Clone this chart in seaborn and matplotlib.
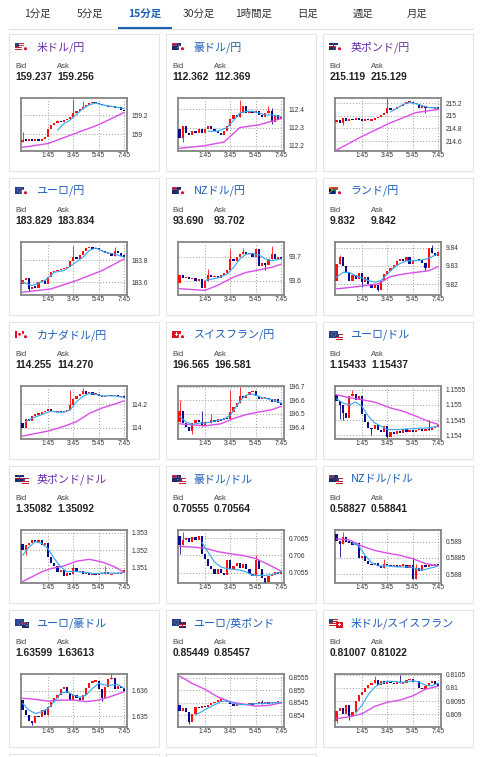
import numpy as np
import pandas as pd
import matplotlib
matplotlib.use('Agg')
import matplotlib.pyplot as plt
from matplotlib.patches import Rectangle, Circle, Polygon
import seaborn as sns

sns.set_theme(style='white')
plt.rcParams['font.family'] = ['Noto Sans CJK JP', 'DejaVu Sans']

# ---------------- data ----------------
TABS = ['1分足', '5分足', '15分足', '30分足', '1時間足', '日足', '週足', '月足']
ACTIVE_TAB = '15分足'
TIME_LABELS = ['1:45', '3:45', '5:45', '7:45']
TIME_IDX = [8, 16, 24, 32]          # candle index of each time label (15-min bars)

# 1 米ドル/円
usdjpy_name, usdjpy_bid, usdjpy_ask = '米ドル/円', '159.237', '159.256'
usdjpy_open0 = 158.92
usdjpy_close = [158.94, 158.93, 158.95, 158.93, 158.94, 158.93, 158.95, 158.97, 159.05, 159.10, 159.12,
                159.14, 159.13, 159.15, 159.16, 159.18, 159.22, 159.25, 159.27, 159.29, 159.31, 159.33,
                159.34, 159.33, 159.32, 159.31, 159.30, 159.29, 159.30, 159.28, 159.29, 159.26, 159.24]
usdjpy_spikes = {0: (159.02, None), 16: (159.37, None), 19: (159.35, None)}
usdjpy_ma_long = [(0, 158.86), (8, 158.90), (16, 159.00), (24, 159.10), (32, 159.23)]
usdjpy_ma_short = [(11, 159.04), (13, 159.11), (15, 159.15), (17, 159.21), (19, 159.27), (21, 159.31),
                   (23, 159.33), (25, 159.31), (27, 159.30), (29, 159.29), (32, 159.27)]
usdjpy_yticks = [159.2, 159.0]
usdjpy_ylabels = ['159.2', '159']

# 2 豪ドル/円
audjpy_name, audjpy_bid, audjpy_ask = '豪ドル/円', '112.362', '112.369'
audjpy_open0 = 112.29
audjpy_close = [112.24, 112.31, 112.27, 112.26, 112.28, 112.27, 112.29, 112.27, 112.29, 112.31, 112.29,
                112.28, 112.27, 112.26, 112.28, 112.31, 112.35, 112.37, 112.36, 112.38, 112.42, 112.38,
                112.39, 112.38, 112.39, 112.37, 112.36, 112.38, 112.39, 112.33, 112.37, 112.35, 112.36]
audjpy_spikes = {1: (None, 112.22), 19: (112.455, None), 28: (112.42, None), 29: (112.41, 112.32)}
audjpy_ma_long = [(0, 112.185), (8, 112.20), (14, 112.22), (19, 112.30), (25, 112.315), (32, 112.35)]
audjpy_ma_short = [(9, 112.28), (12, 112.28), (15, 112.30), (17, 112.34), (19, 112.38), (21, 112.39),
                   (23, 112.39), (25, 112.38), (27, 112.37), (29, 112.37), (32, 112.36)]
audjpy_yticks = [112.4, 112.3, 112.2]
audjpy_ylabels = ['112.4', '112.3', '112.2']

# 3 英ポンド/円
gbpjpy_name, gbpjpy_bid, gbpjpy_ask = '英ポンド/円', '215.119', '215.129'
gbpjpy_open0 = 214.90
gbpjpy_close = [214.93, 214.89, 214.96, 214.92, 214.95, 214.93, 214.96, 214.94, 214.92, 214.95, 214.93,
                214.94, 214.96, 214.98, 215.01, 215.05, 215.12, 215.09, 215.11, 215.14, 215.16, 215.19,
                215.21, 215.22, 215.20, 215.19, 215.13, 215.15, 215.12, 215.14, 215.12, 215.13, 215.11]
gbpjpy_spikes = {2: (None, 214.86), 16: (215.28, None), 28: (None, 215.05)}
gbpjpy_ma_long = [(0, 214.46), (8, 214.675), (17, 214.89), (21, 214.97), (25, 215.05), (32, 215.10)]
gbpjpy_ma_short = [(17, 215.06), (19, 215.12), (21, 215.18), (23, 215.21), (25, 215.19), (27, 215.16),
                   (29, 215.13), (32, 215.12)]
gbpjpy_yticks = [215.2, 215.0, 214.8, 214.6]
gbpjpy_ylabels = ['215.2', '215', '214.8', '214.6']

# 4 ユーロ/円
eurjpy_name, eurjpy_bid, eurjpy_ask = 'ユーロ/円', '183.829', '183.834'
eurjpy_open0 = 183.58
eurjpy_close = [183.62, 183.64, 183.54, 183.56, 183.55, 183.60, 183.62, 183.58, 183.65, 183.69, 183.70,
                183.71, 183.72, 183.73, 183.74, 183.79, 183.83, 183.81, 183.85, 183.88, 183.91, 183.92,
                183.90, 183.91, 183.89, 183.88, 183.86, 183.86, 183.84, 183.88, 183.86, 183.84, 183.83]
eurjpy_spikes = {2: (None, 183.525), 16: (183.93, None), 29: (183.92, None)}
eurjpy_ma_long = [(0, 183.51), (9, 183.54), (17, 183.615), (25, 183.705), (32, 183.81)]
eurjpy_ma_short = [(0, 183.60), (3, 183.57), (7, 183.615), (10, 183.69), (13, 183.705), (16, 183.765),
                   (19, 183.825), (21, 183.885), (23, 183.91), (26, 183.87), (29, 183.855), (32, 183.825)]
eurjpy_yticks = [183.8, 183.6]
eurjpy_ylabels = ['183.8', '183.6']

# 5 NZドル/円
nzdjpy_name, nzdjpy_bid, nzdjpy_ask = 'NZドル/円', '93.690', '93.702'
nzdjpy_open0 = 93.59
nzdjpy_close = [93.625, 93.61, 93.615, 93.605, 93.61, 93.60, 93.605, 93.57, 93.60, 93.625, 93.615,
                93.62, 93.61, 93.625, 93.63, 93.645, 93.69, 93.68, 93.70, 93.71, 93.72, 93.71,
                93.715, 93.70, 93.73, 93.66, 93.675, 93.665, 93.69, 93.71, 93.69, 93.70, 93.69]
nzdjpy_spikes = {9: (93.65, None), 16: (93.73, None), 20: (93.735, None), 27: (None, 93.645), 29: (93.745, None)}
nzdjpy_ma_long = [(0, 93.566), (8, 93.559), (12, 93.58), (17, 93.614), (21, 93.634), (25, 93.644),
                  (29, 93.655), (32, 93.668)]
nzdjpy_ma_short = [(8, 93.60), (12, 93.611), (15, 93.627), (17, 93.655), (19, 93.69), (21, 93.71),
                   (23, 93.712), (25, 93.707), (27, 93.69), (29, 93.682), (32, 93.69)]
nzdjpy_yticks = [93.7, 93.6]
nzdjpy_ylabels = ['93.7', '93.6']

# 6 ランド/円
zarjpy_name, zarjpy_bid, zarjpy_ask = 'ランド/円', '9.832', '9.842'
zarjpy_open0 = 9.822
zarjpy_close = [9.831, 9.835, 9.830, 9.826, 9.822, 9.825, 9.823, 9.826, 9.821, 9.824, 9.820,
                9.818, 9.8195, 9.817, 9.822, 9.8255, 9.827, 9.829, 9.8305, 9.8325, 9.834, 9.8325,
                9.835, 9.831, 9.8325, 9.8335, 9.833, 9.8315, 9.829, 9.840, 9.837, 9.8355, 9.8375]
zarjpy_spikes = {1: (9.836, None), 8: (None, 9.8185), 13: (None, 9.8165), 28: (None, 9.8275), 30: (9.8415, None)}
zarjpy_ma_long = [(0, 9.8175), (5, 9.8184), (9, 9.8193), (13, 9.8202), (17, 9.8242), (21, 9.8256),
                  (25, 9.8265), (29, 9.8274), (32, 9.8296)]
zarjpy_ma_short = [(0, 9.8238), (2, 9.8265), (4, 9.8265), (6, 9.8247), (8, 9.8234), (10, 9.822),
                   (12, 9.8211), (14, 9.822), (16, 9.8256), (18, 9.829), (20, 9.8314), (22, 9.8328),
                   (24, 9.8328), (26, 9.833), (28, 9.8337), (30, 9.835), (32, 9.8368)]
zarjpy_yticks = [9.84, 9.83, 9.82]
zarjpy_ylabels = ['9.84', '9.83', '9.82']

# 7 カナダドル/円
cadjpy_name, cadjpy_bid, cadjpy_ask = 'カナダドル/円', '114.255', '114.270'
cadjpy_open0 = 114.04
cadjpy_close = [114.00, 114.07, 114.06, 114.10, 114.11, 114.12, 114.13, 114.14, 114.16, 114.14, 114.13,
                114.14, 114.13, 114.14, 114.15, 114.19, 114.24, 114.27, 114.29, 114.31, 114.29, 114.30,
                114.28, 114.29, 114.27, 114.26, 114.27, 114.28, 114.27, 114.28, 114.26, 114.27, 114.255]
cadjpy_spikes = {15: (114.32, None), 19: (114.34, None)}
cadjpy_ma_long = [(0, 113.927), (8, 113.97), (13, 114.01), (17, 114.05), (21, 114.12), (25, 114.166),
                  (29, 114.20), (32, 114.228)]
cadjpy_ma_short = [(1, 114.05), (3, 114.08), (5, 114.10), (7, 114.12), (9, 114.14), (11, 114.13),
                   (13, 114.13), (15, 114.15), (17, 114.22), (19, 114.265), (21, 114.29), (23, 114.285),
                   (25, 114.27), (27, 114.27), (29, 114.27), (32, 114.256)]
cadjpy_yticks = [114.2, 114.0]
cadjpy_ylabels = ['114.2', '114']

# 8 スイスフラン/円
chfjpy_name, chfjpy_bid, chfjpy_ask = 'スイスフラン/円', '196.565', '196.581'
chfjpy_open0 = 196.44
chfjpy_close = [196.52, 196.43, 196.40, 196.37, 196.43, 196.45, 196.44, 196.41, 196.44, 196.43, 196.45,
                196.44, 196.46, 196.45, 196.47, 196.46, 196.51, 196.55, 196.58, 196.63, 196.62, 196.64,
                196.66, 196.67, 196.63, 196.61, 196.62, 196.62, 196.61, 196.59, 196.61, 196.58, 196.565]
chfjpy_spikes = {0: (196.60, None), 4: (None, 196.35), 7: (196.52, None), 10: (196.50, None),
                 16: (196.68, None), 19: (196.70, None)}
chfjpy_ma_long = [(0, 196.425), (8, 196.41), (13, 196.425), (17, 196.465), (21, 196.494), (25, 196.513),
                  (29, 196.53), (32, 196.555)]
chfjpy_ma_short = [(0, 196.48), (2, 196.44), (4, 196.42), (6, 196.43), (8, 196.43), (10, 196.44),
                   (12, 196.45), (14, 196.46), (16, 196.49), (18, 196.56), (20, 196.62), (22, 196.65),
                   (24, 196.64), (26, 196.62), (28, 196.61), (30, 196.60), (32, 196.58)]
chfjpy_yticks = [196.7, 196.6, 196.5, 196.4]
chfjpy_ylabels = ['196.7', '196.6', '196.5', '196.4']

# 9 ユーロ/ドル
eurusd_name, eurusd_bid, eurusd_ask = 'ユーロ/ドル', '1.15433', '1.15437'
eurusd_open0 = 1.15533
eurusd_close = [1.15512, 1.15500, 1.15475, 1.15458, 1.15530, 1.15535, 1.15515, 1.15530, 1.15470, 1.15445,
                1.15425, 1.15420, 1.15435, 1.15418, 1.15410, 1.15430, 1.15395, 1.15410, 1.15405, 1.15415,
                1.15408, 1.15420, 1.15412, 1.15418, 1.15412, 1.15418, 1.15420, 1.15415, 1.15422, 1.15418,
                1.15425, 1.15428, 1.15433]
eurusd_spikes = {1: (None, 1.15455), 2: (None, 1.15450), 5: (1.15550, None), 11: (None, 1.15402),
                 16: (None, 1.15390), 29: (1.15450, None)}
eurusd_ma_long = [(0, 1.15533), (4, 1.15524), (8, 1.15517), (12, 1.15509), (17, 1.15490), (21, 1.15479),
                  (25, 1.15463), (29, 1.15446), (32, 1.15436)]
eurusd_ma_short = [(0, 1.15520), (2, 1.15506), (4, 1.15500), (6, 1.15509), (8, 1.15495), (10, 1.15463),
                   (12, 1.15441), (14, 1.15430), (16, 1.15419), (18, 1.15419), (20, 1.15419), (22, 1.15421),
                   (24, 1.15422), (26, 1.15423), (28, 1.15424), (30, 1.15426), (32, 1.15430)]
eurusd_yticks = [1.1555, 1.155, 1.1545, 1.154]
eurusd_ylabels = ['1.1555', '1.155', '1.1545', '1.154']

# 10 英ポンド/ドル
gbpusd_name, gbpusd_bid, gbpusd_ask = '英ポンド/ドル', '1.35082', '1.35092'
gbpusd_open0 = 1.35238
gbpusd_close = [1.35205, 1.35230, 1.35240, 1.35262, 1.35250, 1.35258, 1.35232, 1.35245, 1.35165, 1.35130,
                1.35110, 1.35075, 1.35090, 1.35055, 1.35070, 1.35062, 1.35100, 1.35075, 1.35082, 1.35065,
                1.35072, 1.35060, 1.35068, 1.35062, 1.35070, 1.35063, 1.35075, 1.35062, 1.35064, 1.35071,
                1.35066, 1.35072, 1.35085]
gbpusd_spikes = {1: (None, 1.35175), 16: (1.35120, None), 26: (1.35110, None)}
gbpusd_ma_long = [(0, 1.35021), (3, 1.35049), (6, 1.35077), (9, 1.35096), (13, 1.35111), (17, 1.35138),
                  (21, 1.35149), (25, 1.35134), (29, 1.35106), (32, 1.35074)]
gbpusd_ma_short = [(0, 1.35172), (2, 1.35219), (4, 1.35250), (6, 1.35241), (8, 1.35210), (10, 1.35153),
                   (12, 1.35106), (14, 1.35077), (16, 1.35081), (18, 1.35077), (20, 1.35074), (22, 1.35068),
                   (24, 1.35068), (26, 1.35072), (28, 1.35070), (30, 1.35070), (32, 1.35074)]
gbpusd_yticks = [1.353, 1.352, 1.351]
gbpusd_ylabels = ['1.353', '1.352', '1.351']

# 11 豪ドル/ドル
audusd_name, audusd_bid, audusd_ask = '豪ドル/ドル', '0.70555', '0.70564'
audusd_open0 = 0.70657
audusd_close = [0.70630, 0.70645, 0.70650, 0.70640, 0.70652, 0.70645, 0.70655, 0.70605, 0.70590, 0.70570,
                0.70562, 0.70548, 0.70560, 0.70550, 0.70545, 0.70586, 0.70560, 0.70570, 0.70578, 0.70565,
                0.70575, 0.70560, 0.70548, 0.70540, 0.70588, 0.70562, 0.70536, 0.70525, 0.70540, 0.70545,
                0.70552, 0.70548, 0.70556]
audusd_spikes = {0: (None, 0.70605), 1: (0.70668, None), 24: (0.70600, None), 27: (None, 0.70520)}
audusd_ma_long = [(0, 0.70626), (4, 0.70624), (8, 0.70621), (12, 0.70611), (16, 0.70605), (20, 0.70600),
                  (24, 0.70591), (28, 0.70574), (32, 0.70555)]
audusd_ma_short = [(7, 0.70638), (9, 0.70609), (11, 0.70581), (13, 0.70567), (15, 0.70562), (17, 0.70560),
                   (19, 0.70558), (21, 0.70553), (23, 0.70543), (25, 0.70543), (27, 0.70543), (29, 0.70545),
                   (31, 0.70550), (32, 0.70553)]
audusd_yticks = [0.7065, 0.706, 0.7055]
audusd_ylabels = ['0.7065', '0.706', '0.7055']

# 12 NZドル/ドル
nzdusd_name, nzdusd_bid, nzdusd_ask = 'NZドル/ドル', '0.58827', '0.58841'
nzdusd_open0 = 0.58923
nzdusd_close = [0.58903, 0.58893, 0.58915, 0.58900, 0.58898, 0.58890, 0.58895, 0.58850, 0.58855, 0.58840,
                0.58832, 0.58828, 0.58835, 0.58825, 0.58820, 0.58832, 0.58830, 0.58825, 0.58830, 0.58822,
                0.58828, 0.58830, 0.58820, 0.58828, 0.58785, 0.58820, 0.58810, 0.58828, 0.58823, 0.58830,
                0.58825, 0.58832, 0.58827]
nzdusd_spikes = {1: (None, 0.58853), 2: (0.58928, None), 15: (0.58848, None), 24: (0.58850, None),
                 25: (0.58833, None)}
nzdusd_ma_long = [(0, 0.58908), (4, 0.58905), (8, 0.58886), (12, 0.58873), (16, 0.58865), (20, 0.58858),
                  (24, 0.58848), (28, 0.58833), (32, 0.58826)]
nzdusd_ma_short = [(5, 0.58896), (7, 0.58886), (9, 0.58858), (11, 0.58836), (13, 0.58826), (15, 0.58826),
                   (17, 0.58825), (19, 0.58823), (21, 0.58823), (23, 0.58823), (25, 0.58818), (27, 0.58813),
                   (29, 0.58818), (31, 0.58823), (32, 0.58828)]
nzdusd_yticks = [0.589, 0.5885, 0.588]
nzdusd_ylabels = ['0.589', '0.5885', '0.588']

# 13 ユーロ/豪ドル
euraud_name, euraud_bid, euraud_ask = 'ユーロ/豪ドル', '1.63599', '1.63613'
euraud_open0 = 1.63563
euraud_close = [1.63525, 1.63505, 1.63480, 1.63472, 1.63500, 1.63495, 1.63525, 1.63505, 1.63535, 1.63555,
                1.63570, 1.63585, 1.63605, 1.63615, 1.63590, 1.63565, 1.63585, 1.63570, 1.63562, 1.63585,
                1.63612, 1.63630, 1.63638, 1.63640, 1.63605, 1.63570, 1.63615, 1.63645, 1.63650, 1.63605,
                1.63620, 1.63612, 1.63600]
euraud_spikes = {3: (None, 1.63465), 25: (None, 1.63560), 28: (1.63665, None)}
euraud_ma_long = [(0, 1.63570), (4, 1.63566), (8, 1.63559), (12, 1.63563), (16, 1.63563), (20, 1.63557),
                  (24, 1.63563), (27, 1.63574), (30, 1.63587), (32, 1.63596)]
euraud_ma_short = [(0, 1.63550), (2, 1.63524), (4, 1.63510), (6, 1.63517), (8, 1.63530), (10, 1.63557),
                   (12, 1.63590), (14, 1.63596), (16, 1.63583), (18, 1.63574), (20, 1.63583), (22, 1.63609),
                   (24, 1.63629), (26, 1.63622), (28, 1.63622), (30, 1.63625), (32, 1.63609)]
euraud_yticks = [1.636, 1.635]
euraud_ylabels = ['1.636', '1.635']

# 14 ユーロ/英ポンド
eurgbp_name, eurgbp_bid, eurgbp_ask = 'ユーロ/英ポンド', '0.85449', '0.85457'
eurgbp_open0 = 0.85440
eurgbp_close = [0.85418, 0.85430, 0.85412, 0.85372, 0.85405, 0.85435, 0.85430, 0.85438, 0.85432, 0.85440,
                0.85448, 0.85455, 0.85458, 0.85465, 0.85460, 0.85452, 0.85445, 0.85438, 0.85445, 0.85440,
                0.85446, 0.85442, 0.85448, 0.85444, 0.85449, 0.85450, 0.85447, 0.85452, 0.85448, 0.85453,
                0.85450, 0.85455, 0.85449]
eurgbp_spikes = {3: (None, 0.85365), 26: (0.85463, None)}
eurgbp_ma_long = [(0, 0.85557), (4, 0.85527), (8, 0.85504), (12, 0.85474), (16, 0.85454), (20, 0.85445),
                  (24, 0.85437), (28, 0.85440), (32, 0.85450)]
eurgbp_ma_short = [(5, 0.85402), (7, 0.85415), (9, 0.85430), (11, 0.85442), (13, 0.85455), (15, 0.85458),
                   (17, 0.85448), (19, 0.85443), (21, 0.85443), (23, 0.85446), (25, 0.85447), (27, 0.85448),
                   (29, 0.85450), (31, 0.85451), (32, 0.85452)]
eurgbp_yticks = [0.8555, 0.855, 0.8545, 0.854]
eurgbp_ylabels = ['0.8555', '0.855', '0.8545', '0.854']

# 15 米ドル/スイスフラン
usdchf_name, usdchf_bid, usdchf_ask = '米ドル/スイスフラン', '0.81007', '0.81022'
usdchf_open0 = 0.80875
usdchf_close = [0.80912, 0.80925, 0.80900, 0.80935, 0.80895, 0.80910, 0.80950, 0.80975, 0.80985, 0.81000,
                0.81012, 0.81020, 0.81030, 0.81012, 0.81025, 0.81015, 0.81028, 0.81020, 0.81015, 0.81022,
                0.81018, 0.81020, 0.81030, 0.81035, 0.81022, 0.81028, 0.81000, 0.80995, 0.81008, 0.81020,
                0.81028, 0.81015, 0.81007]
usdchf_spikes = {0: (None, 0.80868), 4: (None, 0.80880), 12: (0.81045, None), 20: (0.81048, None)}
usdchf_ma_long = [(0, 0.80884), (4, 0.80890), (8, 0.80902), (12, 0.80930), (16, 0.80946), (20, 0.80954),
                  (24, 0.80970), (28, 0.80995), (32, 0.81007)]
usdchf_ma_short = [(6, 0.80904), (8, 0.80935), (10, 0.80975), (12, 0.81003), (14, 0.81018), (16, 0.81025),
                   (18, 0.81025), (20, 0.81022), (22, 0.81023), (24, 0.81028), (26, 0.81022), (28, 0.81010),
                   (30, 0.81008), (32, 0.81018)]
usdchf_yticks = [0.8105, 0.81, 0.8095, 0.809]
usdchf_ylabels = ['0.8105', '0.81', '0.8095', '0.809']

# ---------------- layout (pixels) ----------------
W, H = 480, 757
ROW_TOP = [34, 178, 322, 466, 610]
COL_LEFT = [9, 166, 323]
CARD_W, CARD_H = 150, 137
YLIMS = [(158.824, 159.383), (112.172, 112.4635), (214.45, 215.28),
         (183.4875, 183.963), (93.541, 93.7605), (9.8143, 9.8431),
         (113.905, 114.354), (196.314, 196.707), (1.15389, 1.15562),
         (1.35015, 1.35317), (0.70522, 0.70673), (0.58775, 0.58935),
         (1.63458, 1.63666), (0.85355, 0.85565), (0.80853, 0.81053)]
FLAGS = [('USD', 'JPY'), ('AUD', 'JPY'), ('GBP', 'JPY'), ('EUR', 'JPY'), ('NZD', 'JPY'), ('ZAR', 'JPY'),
         ('CAD', 'JPY'), ('CHF', 'JPY'), ('EUR', 'USD'), ('GBP', 'USD'), ('AUD', 'USD'), ('NZD', 'USD'),
         ('EUR', 'AUD'), ('EUR', 'GBP'), ('USD', 'CHF')]
VISITED = {0, 2, 9}

PAIRS = []
for p in ['usdjpy', 'audjpy', 'gbpjpy', 'eurjpy', 'nzdjpy', 'zarjpy', 'cadjpy', 'chfjpy',
          'eurusd', 'gbpusd', 'audusd', 'nzdusd', 'euraud', 'eurgbp', 'usdchf']:
    g = globals()
    PAIRS.append(dict(name=g[p + '_name'], bid=g[p + '_bid'], ask=g[p + '_ask'], open0=g[p + '_open0'],
                      close=g[p + '_close'], spikes=g[p + '_spikes'], ma_long=g[p + '_ma_long'],
                      ma_short=g[p + '_ma_short'], yticks=g[p + '_yticks'], ylabels=g[p + '_ylabels']))

RED = '#ff1010'
NAVY = '#0a0a90'
MA_SHORT_C = '#3aa8f0'
MA_LONG_C = '#d94ee8'
BLUE_LINK = '#1a5cb8'
PURPLE_LINK = '#6a2aa8'
TAB_BLUE = '#1a5fb0'
NUMFONT = ['Liberation Sans', 'DejaVu Sans']

fig = plt.figure(figsize=(4.8, 7.57), dpi=100)
fig.patch.set_facecolor('white')
bg = fig.add_axes([0, 0, 1, 1])
bg.set_xlim(0, W)
bg.set_ylim(H, 0)
bg.axis('off')


def R(x, y, w, h, col, z, ec='none', lw=0):
    bg.add_patch(Rectangle((x, y), w, h, facecolor=col, edgecolor=ec, linewidth=lw, zorder=z))


def flag(code, x, y, w, h, z):
    if code == 'USD':
        R(x, y, w, h, '#ffffff', z)
        for k in range(4):
            R(x, y + k * h / 3.5, w, h / 7.0, '#c8202f', z + 0.1)
        R(x, y, w * 0.45, h * 0.55, '#3c3b6e', z + 0.2)
    elif code == 'JPY':
        R(x, y, w, h, '#ffffff', z, ec='#e6e6e6', lw=0.3)
        bg.add_patch(Circle((x + w / 2, y + h / 2), h * 0.28, facecolor='#d0102a', edgecolor='none', zorder=z + 0.1))
    elif code == 'EUR':
        R(x, y, w, h, '#1f3f99', z)
        for a in np.linspace(0, 2 * np.pi, 8, endpoint=False):
            bg.add_patch(Circle((x + w / 2 + np.cos(a) * h * 0.3, y + h / 2 + np.sin(a) * h * 0.3), 0.35,
                                facecolor='#ffd700', edgecolor='none', zorder=z + 0.1))
    elif code == 'GBP':
        R(x, y, w, h, '#1b2b6b', z)
        R(x, y + h * 0.36, w, h * 0.28, '#ffffff', z + 0.1)
        R(x + w * 0.4, y, w * 0.2, h, '#ffffff', z + 0.1)
        R(x, y + h * 0.43, w, h * 0.14, '#c8102e', z + 0.2)
        R(x + w * 0.45, y, w * 0.1, h, '#c8102e', z + 0.2)
    elif code in ('AUD', 'NZD'):
        R(x, y, w, h, '#1b2b6b', z)
        R(x, y, w * 0.5, h * 0.5, '#5a6aa0', z + 0.1)
        R(x, y + h * 0.2, w * 0.5, h * 0.12, '#c8102e', z + 0.2)
        R(x + w * 0.2, y, w * 0.12, h * 0.5, '#c8102e', z + 0.2)
        dot = '#ffffff' if code == 'AUD' else '#d0102a'
        for (dx, dy) in [(0.75, 0.3), (0.65, 0.7), (0.85, 0.6)]:
            bg.add_patch(Circle((x + w * dx, y + h * dy), 0.45, facecolor=dot, edgecolor='none', zorder=z + 0.3))
    elif code == 'CAD':
        R(x, y, w, h, '#ffffff', z)
        R(x, y, w * 0.27, h, '#e01020', z + 0.1)
        R(x + w * 0.73, y, w * 0.27, h, '#e01020', z + 0.1)
        bg.add_patch(Circle((x + w / 2, y + h / 2), h * 0.2, facecolor='#e01020', edgecolor='none', zorder=z + 0.2))
    elif code == 'CHF':
        R(x, y, w, h, '#e01020', z)
        R(x + w * 0.42, y + h * 0.2, w * 0.16, h * 0.6, '#ffffff', z + 0.1)
        R(x + w * 0.28, y + h * 0.4, w * 0.44, h * 0.2, '#ffffff', z + 0.1)
    elif code == 'ZAR':
        R(x, y, w, h / 2, '#de3831', z)
        R(x, y + h / 2, w, h / 2, '#002395', z)
        R(x, y + h * 0.33, w, h * 0.34, '#007a4d', z + 0.1)
        bg.add_patch(Polygon([(x, y), (x + w * 0.45, y + h / 2), (x, y + h)], closed=True,
                             facecolor='#ffb612', edgecolor='none', zorder=z + 0.2))
        bg.add_patch(Polygon([(x, y + h * 0.15), (x + w * 0.32, y + h / 2), (x, y + h * 0.85)], closed=True,
                             facecolor='#000000', edgecolor='none', zorder=z + 0.3))


# ---------------- tabs ----------------
TAB_X = [37, 90, 145, 199, 254, 308, 363, 417]
for lbl, tx in zip(TABS, TAB_X):
    act = lbl == ACTIVE_TAB
    bg.text(tx, 13.5, lbl, ha='center', va='center', fontsize=7.5,
            color=TAB_BLUE if act else '#333333', fontweight='bold' if act else 'normal', zorder=5)
bg.plot([9, 473], [28.5, 28.5], color='#dedede', lw=0.8, zorder=4)
bg.plot([118, 172], [27.6, 27.6], color=TAB_BLUE, lw=1.5, solid_capstyle='butt', zorder=5)

# ---------------- cards ----------------
for k, pr in enumerate(PAIRS):
    r, c = divmod(k, 3)
    T, L = ROW_TOP[r], COL_LEFT[c]
    R(L, T, CARD_W, CARD_H, '#ffffff', 1, ec='#e4e4e4', lw=0.8)
    tc = T + 13
    flag(FLAGS[k][0], L + 6, tc - 4.2, 9, 7, 2)
    flag(FLAGS[k][1], L + 13, tc - 1.0, 7, 5.5, 3)
    bg.text(L + 27.5, tc, pr['name'], ha='left', va='center', fontsize=7.9,
            color=PURPLE_LINK if k in VISITED else BLUE_LINK, zorder=5)
    bg.text(L + 6.5, T + 32, 'Bid', ha='left', va='center', fontsize=5.6, color='#444444',
            family=NUMFONT, zorder=5)
    bg.text(L + 48, T + 32, 'Ask', ha='left', va='center', fontsize=5.6, color='#444444',
            family=NUMFONT, zorder=5)
    bg.text(L + 6.5, T + 43.5, pr['bid'], ha='left', va='center', fontsize=7.4, color='#222222',
            family=NUMFONT, fontweight='bold', zorder=5)
    bg.text(L + 48, T + 43.5, pr['ask'], ha='left', va='center', fontsize=7.4, color='#222222',
            family=NUMFONT, fontweight='bold', zorder=5)

# partial cards of the next row
for L in COL_LEFT[:2]:
    R(L, 754, CARD_W, 40, '#ffffff', 1, ec='#e4e4e4', lw=0.8)

# ---------------- mini candlestick charts ----------------
for k, pr in enumerate(PAIRS):
    r, c = divmod(k, 3)
    T, L = ROW_TOP[r], COL_LEFT[c]
    bl, bt, bw, bh = L + 12, T + 64, 106, 52.7
    ax = fig.add_axes([bl / W, 1 - (bt + bh) / H, bw / W, bh / H])
    ax.set_facecolor('white')
    ymin, ymax = YLIMS[k]
    close = np.array(pr['close'])
    opens = np.r_[pr['open0'], close[:-1]]
    x = np.arange(len(close))
    up = close >= opens
    bot = np.minimum(opens, close)
    top = np.maximum(opens, close)
    minh = (ymax - ymin) * 0.028
    hgt = np.maximum(top - bot, minh)
    base = bot - (hgt - (top - bot)) / 2
    cols = np.where(up, RED, NAVY)
    for i, (hi, lo) in pr['spikes'].items():
        ax.vlines(i, lo if lo is not None else bot[i], hi if hi is not None else top[i],
                  color=cols[i], lw=0.6, zorder=3)
    ax.bar(x, hgt, bottom=base, width=0.7, color=cols, linewidth=0, zorder=3)

    ml = pd.DataFrame(pr['ma_long'], columns=['i', 'v'])
    ms = pd.DataFrame(pr['ma_short'], columns=['i', 'v'])
    sns.lineplot(data=ml, x='i', y='v', ax=ax, color=MA_LONG_C, linewidth=1.0, zorder=4, legend=False)
    sns.lineplot(data=ms, x='i', y='v', ax=ax, color=MA_SHORT_C, linewidth=0.85, zorder=4, legend=False)

    ax.set_xlim(-0.5, 32.9)
    ax.set_ylim(ymin, ymax)
    ax.set_xlabel('')
    ax.set_ylabel('')
    ax.set_xticks(TIME_IDX)
    ax.set_xticklabels(TIME_LABELS, family=NUMFONT)
    ax.yaxis.tick_right()
    ax.set_yticks(pr['yticks'])
    ax.set_yticklabels(pr['ylabels'], family=NUMFONT)
    ax.tick_params(axis='both', length=0, labelsize=4.8, colors='#333333')
    ax.tick_params(axis='y', pad=3.3)
    ax.tick_params(axis='x', pad=0.9)
    ax.grid(True, linestyle=(0, (1, 2)), color='#9a9a9a', linewidth=0.7)
    ax.set_axisbelow(True)
    for sp in ax.spines.values():
        sp.set_visible(True)
        sp.set_color('#858585')
        sp.set_linewidth(1.3)

fig.savefig('out.png', dpi=100, facecolor='white')
